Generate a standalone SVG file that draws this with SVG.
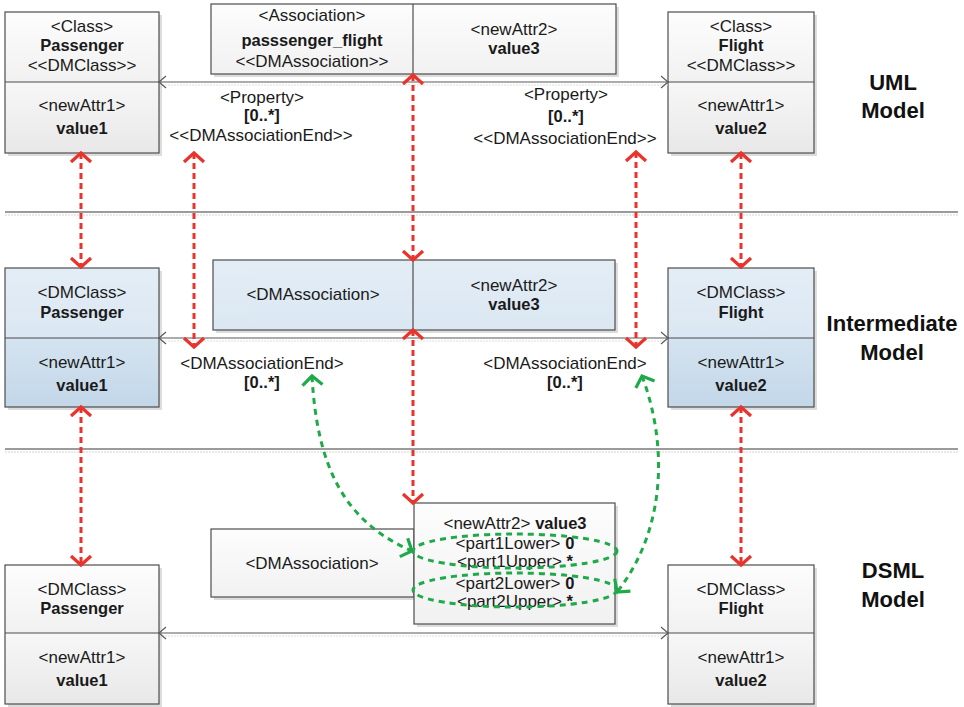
<svg xmlns="http://www.w3.org/2000/svg" width="964" height="707" viewBox="0 0 964 707">
  <style>
    text { font-family: "Liberation Sans", Arial, sans-serif; font-size: 17px; fill: #1a1a1a; text-anchor: middle; }
    .b { font-weight: bold; font-size: 16.5px; }
    .lbl { font-weight: bold; font-size: 22px; fill: #111; }
    .frame { fill: none; stroke: #4d4d4d; stroke-width: 1.2; }
    .shadow { fill: #dcdcdc; }
    .div { stroke: #4d4d4d; stroke-width: 1.2; }
    .sep { stroke: #7a7a7a; stroke-width: 1.5; }
    .sep-sh { stroke: #e2e2e2; stroke-width: 1.5; stroke-dasharray: 2 1; }
    .assoc { fill: none; stroke: #5a5a5a; stroke-width: 1.2; marker-start: url(#open); marker-end: url(#open); }
    .assoc-sh { stroke: #e0e0e0; stroke-width: 1.2; stroke-dasharray: 2 1; }
    .trace { fill: none; stroke: #e8342c; stroke-width: 3; stroke-dasharray: 6 4; marker-start: url(#redHead); marker-end: url(#redHead); }
    .map { fill: none; stroke: #1faa4a; stroke-width: 3; stroke-dasharray: 6 5; }
    .map-arrow { marker-start: url(#greenHead); marker-end: url(#greenHead); }
  </style>
  <defs>
    <linearGradient id="greyTop" x1="0" y1="0" x2="0" y2="1">
      <stop offset="0" stop-color="#fdfdfd"/>
      <stop offset="1" stop-color="#f1f1f1"/>
    </linearGradient>
    <linearGradient id="greyBot" x1="0" y1="0" x2="0" y2="1">
      <stop offset="0" stop-color="#f7f7f7"/>
      <stop offset="1" stop-color="#e8e8e8"/>
    </linearGradient>
    <linearGradient id="blueTop" x1="0" y1="0" x2="0" y2="1">
      <stop offset="0" stop-color="#e3edf6"/>
      <stop offset="1" stop-color="#dbe7f2"/>
    </linearGradient>
    <linearGradient id="blueBot" x1="0" y1="0" x2="0" y2="1">
      <stop offset="0" stop-color="#d4e3f0"/>
      <stop offset="1" stop-color="#c3d7e9"/>
    </linearGradient>
    <marker id="open" markerUnits="userSpaceOnUse" orient="auto-start-reverse" overflow="visible" refX="0" refY="0">
      <path d="M-7,-6 L0,0 L-7,6" fill="none" stroke="#5a5a5a" stroke-width="1.2"/>
    </marker>
    <marker id="redHead" markerUnits="userSpaceOnUse" orient="auto-start-reverse" overflow="visible" refX="0" refY="0">
      <path d="M-9,-10 L0,0 L-9,10" fill="none" stroke="#e8342c" stroke-width="3.2"/>
    </marker>
    <marker id="greenHead" markerUnits="userSpaceOnUse" orient="auto-start-reverse" overflow="visible" refX="0" refY="0">
      <path d="M-9,-10 L0,0 L-9,10" fill="none" stroke="#1faa4a" stroke-width="3.2"/>
    </marker>
  </defs>

  <rect width="964" height="707" fill="#ffffff"/>

  <!-- layer separators -->
  <g id="separators">
    <line class="sep-sh" x1="5" y1="215" x2="958" y2="215"/>
    <line class="sep" x1="5" y1="212" x2="958" y2="212"/>
    <line class="sep-sh" x1="5" y1="452" x2="958" y2="452"/>
    <line class="sep" x1="5" y1="449" x2="958" y2="449"/>
  </g>

  <!-- layer titles -->
  <g id="layer-labels">
    <text class="lbl" x="893" y="90">UML</text>
    <text class="lbl" x="893" y="118">Model</text>
    <text class="lbl" x="892" y="331">Intermediate</text>
    <text class="lbl" x="892" y="360">Model</text>
    <text class="lbl" x="893" y="578">DSML</text>
    <text class="lbl" x="893" y="607">Model</text>
  </g>

  <!-- ===== UML model ===== -->
  <g id="uml-passenger">
    <rect class="shadow" x="8" y="15" width="154" height="141"/>
    <rect x="5" y="12" width="154" height="70" fill="url(#greyTop)"/>
    <rect x="5" y="82" width="154" height="71" fill="url(#greyBot)"/>
    <rect class="frame" x="5" y="12" width="154" height="141"/>
    <line class="div" x1="5" y1="82" x2="159" y2="82"/>
    <text x="82" y="32">&lt;Class&gt;</text>
    <text class="b" x="82" y="51">Passenger</text>
    <text x="82" y="71">&lt;&lt;DMClass&gt;&gt;</text>
    <text x="82" y="111">&lt;newAttr1&gt;</text>
    <text class="b" x="82" y="134">value1</text>
  </g>

  <g id="uml-association">
    <rect class="shadow" x="214" y="7" width="405" height="70"/>
    <rect x="211" y="4" width="405" height="70" fill="url(#greyTop)"/>
    <rect class="frame" x="211" y="4" width="405" height="70"/>
    <line class="div" x1="413" y1="4" x2="413" y2="74"/>
    <text x="312" y="21">&lt;Association&gt;</text>
    <text class="b" x="312" y="46">passsenger_flight</text>
    <text x="312" y="67">&lt;&lt;DMAssociation&gt;&gt;</text>
    <text x="514" y="35">&lt;newAttr2&gt;</text>
    <text class="b" x="514" y="54">value3</text>
  </g>

  <g id="uml-flight">
    <rect class="shadow" x="671" y="15" width="146" height="141"/>
    <rect x="668" y="12" width="146" height="70" fill="url(#greyTop)"/>
    <rect x="668" y="82" width="146" height="71" fill="url(#greyBot)"/>
    <rect class="frame" x="668" y="12" width="146" height="141"/>
    <line class="div" x1="668" y1="82" x2="814" y2="82"/>
    <text x="741" y="32">&lt;Class&gt;</text>
    <text class="b" x="741" y="51">Flight</text>
    <text x="741" y="71">&lt;&lt;DMClass&gt;&gt;</text>
    <text x="741" y="111">&lt;newAttr1&gt;</text>
    <text class="b" x="741" y="134">value2</text>
  </g>

  <g id="uml-end-labels">
    <text x="262" y="103">&lt;Property&gt;</text>
    <text class="b" x="262" y="121">[0..*]</text>
    <text x="261" y="141">&lt;&lt;DMAssociationEnd&gt;&gt;</text>
    <text x="566" y="100">&lt;Property&gt;</text>
    <text class="b" x="566" y="122">[0..*]</text>
    <text x="565" y="144">&lt;&lt;DMAssociationEnd&gt;&gt;</text>
  </g>

  <!-- ===== Intermediate model ===== -->
  <g id="im-passenger">
    <rect class="shadow" x="8" y="271" width="154" height="139"/>
    <rect x="5" y="268" width="154" height="70" fill="url(#blueTop)"/>
    <rect x="5" y="338" width="154" height="69" fill="url(#blueBot)"/>
    <rect class="frame" x="5" y="268" width="154" height="139"/>
    <line class="div" x1="5" y1="338" x2="159" y2="338"/>
    <text x="82" y="298">&lt;DMClass&gt;</text>
    <text class="b" x="82" y="318">Passenger</text>
    <text x="82" y="368">&lt;newAttr1&gt;</text>
    <text class="b" x="82" y="391">value1</text>
  </g>

  <g id="im-association">
    <rect class="shadow" x="216" y="263" width="402" height="70"/>
    <rect x="213" y="260" width="402" height="70" fill="url(#blueTop)"/>
    <rect class="frame" x="213" y="260" width="402" height="70"/>
    <line class="div" x1="413" y1="260" x2="413" y2="330"/>
    <text x="313" y="300">&lt;DMAssociation&gt;</text>
    <text x="514" y="291">&lt;newAttr2&gt;</text>
    <text class="b" x="514" y="310">value3</text>
  </g>

  <g id="im-flight">
    <rect class="shadow" x="671" y="271" width="146" height="139"/>
    <rect x="668" y="268" width="146" height="70" fill="url(#blueTop)"/>
    <rect x="668" y="338" width="146" height="69" fill="url(#blueBot)"/>
    <rect class="frame" x="668" y="268" width="146" height="139"/>
    <line class="div" x1="668" y1="338" x2="814" y2="338"/>
    <text x="741" y="298">&lt;DMClass&gt;</text>
    <text class="b" x="741" y="318">Flight</text>
    <text x="741" y="368">&lt;newAttr1&gt;</text>
    <text class="b" x="741" y="391">value2</text>
  </g>

  <g id="im-end-labels">
    <text x="262" y="369">&lt;DMAssociationEnd&gt;</text>
    <text class="b" x="262" y="388">[0..*]</text>
    <text x="565" y="369">&lt;DMAssociationEnd&gt;</text>
    <text class="b" x="565" y="388">[0..*]</text>
  </g>

  <!-- ===== DSML model ===== -->
  <g id="dsml-passenger">
    <rect class="shadow" x="8" y="568" width="154" height="139"/>
    <rect x="5" y="565" width="154" height="68" fill="url(#greyTop)"/>
    <rect x="5" y="633" width="154" height="71" fill="url(#greyBot)"/>
    <rect class="frame" x="5" y="565" width="154" height="139"/>
    <line class="div" x1="5" y1="633" x2="159" y2="633"/>
    <text x="82" y="595">&lt;DMClass&gt;</text>
    <text class="b" x="82" y="614">Passenger</text>
    <text x="82" y="663">&lt;newAttr1&gt;</text>
    <text class="b" x="82" y="686">value1</text>
  </g>

  <g id="dsml-association">
    <rect class="shadow" x="214" y="532" width="203" height="68"/>
    <rect x="211" y="529" width="203" height="68" fill="url(#greyTop)"/>
    <rect class="frame" x="211" y="529" width="203" height="68"/>
    <text x="312" y="569">&lt;DMAssociation&gt;</text>
  </g>

  <g id="dsml-values">
    <rect class="shadow" x="417" y="506" width="201" height="121"/>
    <rect x="414" y="503" width="201" height="121" fill="url(#greyTop)"/>
    <rect class="frame" x="414" y="503" width="201" height="121"/>
    <text x="515" y="529">&lt;newAttr2&gt; <tspan class="b">value3</tspan></text>
    <text x="515" y="549">&lt;part1Lower&gt; <tspan class="b">0</tspan></text>
    <text x="515" y="567">&lt;part1Upper&gt; <tspan class="b">*</tspan></text>
    <text x="515" y="589">&lt;part2Lower&gt; <tspan class="b">0</tspan></text>
    <text x="515" y="607">&lt;part2Upper&gt; <tspan class="b">*</tspan></text>
    <ellipse class="map" cx="515" cy="551" rx="102" ry="17"/>
    <ellipse class="map" cx="515" cy="590" rx="102" ry="17"/>
  </g>

  <g id="dsml-flight">
    <rect class="shadow" x="671" y="568" width="146" height="139"/>
    <rect x="668" y="565" width="146" height="68" fill="url(#greyTop)"/>
    <rect x="668" y="633" width="146" height="71" fill="url(#greyBot)"/>
    <rect class="frame" x="668" y="565" width="146" height="139"/>
    <line class="div" x1="668" y1="633" x2="814" y2="633"/>
    <text x="741" y="595">&lt;DMClass&gt;</text>
    <text class="b" x="741" y="614">Flight</text>
    <text x="741" y="663">&lt;newAttr1&gt;</text>
    <text class="b" x="741" y="686">value2</text>
  </g>

  <!-- ===== connectors ===== -->
  <g id="connectors">
    <!-- associations between the class boxes -->
    <line class="assoc-sh" x1="162" y1="85" x2="668" y2="85"/>
    <line class="assoc" x1="159" y1="82" x2="668" y2="82"/>
    <line class="assoc-sh" x1="162" y1="341" x2="668" y2="341"/>
    <line class="assoc" x1="159" y1="338" x2="668" y2="338"/>
    <line class="assoc-sh" x1="162" y1="636" x2="668" y2="636"/>
    <line class="assoc" x1="159" y1="633" x2="668" y2="633"/>

    <!-- UML to intermediate traces -->
    <line class="trace" x1="81" y1="153" x2="81" y2="267"/>
    <line class="trace" x1="194" y1="153" x2="194" y2="347"/>
    <line class="trace" x1="413" y1="75" x2="413" y2="260"/>
    <line class="trace" x1="636" y1="152" x2="636" y2="347"/>
    <line class="trace" x1="741" y1="153" x2="741" y2="267"/>

    <!-- intermediate to DSML traces -->
    <line class="trace" x1="81" y1="407" x2="81" y2="565"/>
    <line class="trace" x1="413" y1="330" x2="413" y2="503"/>
    <line class="trace" x1="741" y1="407" x2="741" y2="565"/>

    <!-- association end to multiplicity attributes -->
    <path class="map map-arrow" d="M312,376 C317,468 345,522 412,551"/>
    <path class="map map-arrow" d="M642,376 C668,445 666,530 617,592"/>
  </g>
</svg>
